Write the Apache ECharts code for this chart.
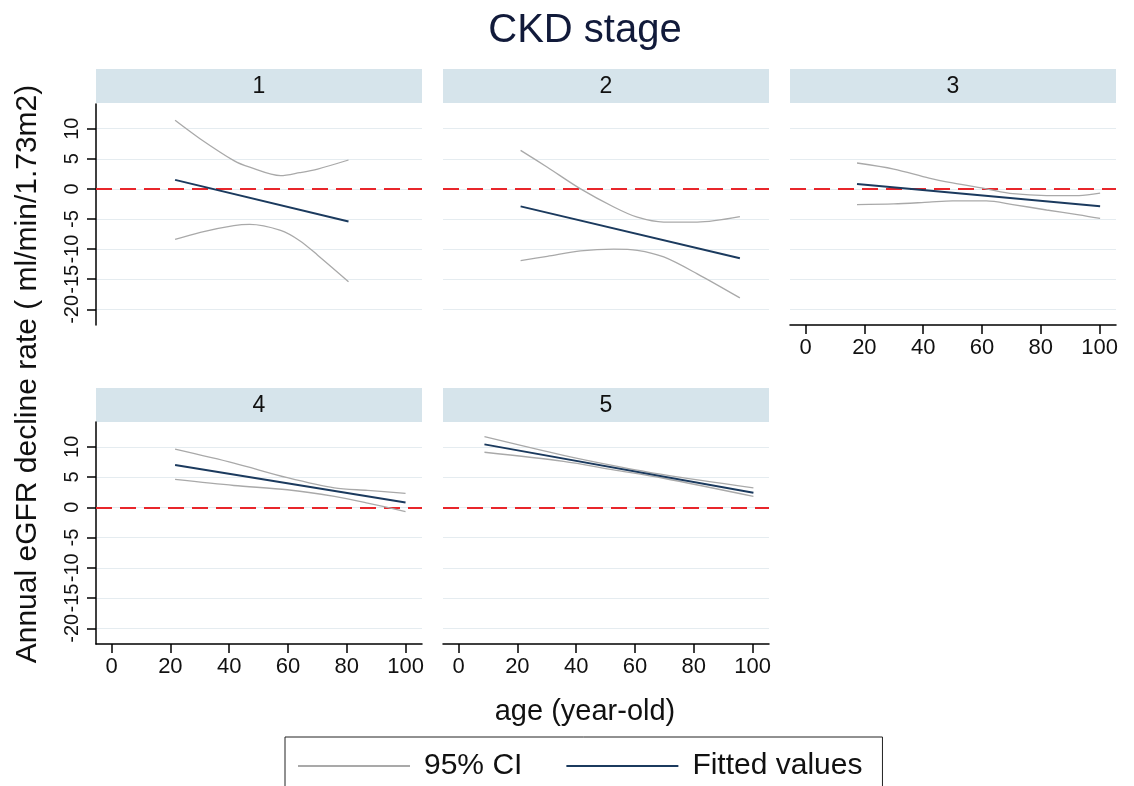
<!DOCTYPE html>
<html>
<head>
<meta charset="utf-8">
<script src="https://cdn.jsdelivr.net/npm/echarts@6/dist/echarts.min.js"></script>
<style>
html,body{margin:0;padding:0;background:#fff;}
#main{width:1134px;height:786px;}
</style>
</head>
<body>
<div id="main"></div>
<script>
// ---- data ----
const panelLabels = ['1', '2', '3', '4', '5'];
const xTicks = [0, 20, 40, 60, 80, 100];
const yTicks = [-20, -15, -10, -5, 0, 5, 10];

// stage 1
const ciAge1 = [21.6, 30.2, 41.6, 47, 57.5, 64, 70.1, 80.6];
const upper1 = [11.4, 8.3, 4.7, 3.6, 2.2, 2.7, 3.3, 4.8];
const lower1 = [-8.4, -7.2, -6.1, -5.9, -6.9, -8.6, -11.0, -15.4];
const fitAge1 = [21.6, 80.6];
const fit1 = [1.5, -5.4];

// stage 2
const ciAge2 = [21.1, 30.2, 41.5, 52.8, 60.8, 69.8, 81.2, 95.7];
const upper2 = [6.4, 3.6, 0.0, -3.0, -4.7, -5.5, -5.5, -4.6];
const lower2 = [-11.9, -11.2, -10.3, -10.0, -10.2, -11.3, -14.1, -18.1];
const fitAge2 = [21.1, 95.7];
const fit2 = [-2.9, -11.5];

// stage 3
const ciAge3 = [17.5, 30, 42, 50, 61.5, 70.5, 82, 93, 100.2];
const upper3 = [4.3, 3.3, 1.8, 1.0, 0.0, -0.8, -1.1, -1.1, -0.7];
const lower3 = [-2.6, -2.5, -2.2, -2.0, -2.0, -2.6, -3.5, -4.3, -4.9];
const fitAge3 = [17.5, 100.2];
const fit3 = [0.8, -2.9];

// stage 4
const ciAge4 = [21.6, 41.6, 59.8, 75.8, 87.1, 100];
const upper4 = [9.6, 7.3, 4.9, 3.2, 2.8, 2.3];
const lower4 = [4.6, 3.6, 2.9, 1.8, 0.7, -0.7];
const fitAge4 = [21.6, 100];
const fit4 = [7.0, 0.8];

// stage 5
const ciAge5 = [8.8, 35.7, 52.7, 69.7, 100.3];
const upper5 = [11.7, 8.6, 6.9, 5.4, 3.2];
const lower5 = [9.1, 7.6, 6.2, 4.8, 1.8];
const fitAge5 = [8.8, 100.3];
const fit5 = [10.4, 2.4];

const panels = [
  {ciAge: ciAge1, upper: upper1, lower: lower1, fitAge: fitAge1, fit: fit1},
  {ciAge: ciAge2, upper: upper2, lower: lower2, fitAge: fitAge2, fit: fit2},
  {ciAge: ciAge3, upper: upper3, lower: lower3, fitAge: fitAge3, fit: fit3},
  {ciAge: ciAge4, upper: upper4, lower: lower4, fitAge: fitAge4, fit: fit4},
  {ciAge: ciAge5, upper: upper5, lower: lower5, fitAge: fitAge5, fit: fit5}
];

// ---- layout ----
const FONT = "'Liberation Sans', Arial, Helvetica, sans-serif";
const colLeft = [96, 443, 790];
const colW = 326;
const rowTop = [104, 422];
const rowH = [221, 222];
const stripTop = [69, 388];
const stripH = [34, 34];
const pos = [[0,0],[0,1],[0,2],[1,0],[1,1]];
const showX = [false, false, true, true, true];
const showY = [true, false, false, true, false];

const CI_COLOR = '#a9a9a9';
const FIT_COLOR = '#1b3a5e';
const GRID_COLOR = '#e5ecf0';
const STRIP_COLOR = '#d6e4eb';

const grids = [], xAxes = [], yAxes = [], series = [], graphics = [];
panels.forEach((p, i) => {
  const [r, c] = pos[i];
  grids.push({left: colLeft[c], top: rowTop[r], width: colW, height: rowH[r], containLabel: false});
  const axLine = {color: '#000', width: 1.5};
  xAxes.push({
    type: 'value', gridIndex: i, min: -5.3, max: 105.6,
    axisLine: {show: showX[i], onZero: false, lineStyle: axLine},
    axisTick: {show: showX[i], customValues: xTicks, length: 9, lineStyle: axLine},
    axisLabel: {show: showX[i], customValues: xTicks, fontSize: 22, margin: 12, color: '#111', fontFamily: FONT},
    splitLine: {show: false}
  });
  yAxes.push({
    type: 'value', gridIndex: i, min: -22.6, max: 14.1,
    axisLine: {show: showY[i], onZero: false, lineStyle: axLine},
    axisTick: {show: showY[i], customValues: yTicks, length: 9, lineStyle: axLine},
    axisLabel: {show: showY[i], customValues: yTicks, rotate: 90, fontSize: 20, margin: 14, color: '#111', fontFamily: FONT},
    splitLine: {show: true, lineStyle: {color: GRID_COLOR, width: 1}}
  });
  const ciStyle = {color: CI_COLOR, width: 1.3};
  series.push({
    name: '95% CI', type: 'line', xAxisIndex: i, yAxisIndex: i,
    data: p.ciAge.map((a, k) => [a, p.upper[k]]),
    showSymbol: false, symbol: 'none', smooth: 0.3, lineStyle: ciStyle, itemStyle: {color: CI_COLOR}, z: 3
  });
  series.push({
    name: '95% CI', type: 'line', xAxisIndex: i, yAxisIndex: i,
    data: p.ciAge.map((a, k) => [a, p.lower[k]]),
    showSymbol: false, symbol: 'none', smooth: 0.3, lineStyle: ciStyle, itemStyle: {color: CI_COLOR}, z: 3
  });
  series.push({
    name: 'Fitted values', type: 'line', xAxisIndex: i, yAxisIndex: i,
    data: p.fitAge.map((a, k) => [a, p.fit[k]]),
    showSymbol: false, symbol: 'none', lineStyle: {color: FIT_COLOR, width: 2}, itemStyle: {color: FIT_COLOR}, z: 4,
    markLine: {
      silent: true, symbol: ['none', 'none'], label: {show: false},
      lineStyle: {color: '#e8262b', type: [16, 8], width: 2},
      data: [{yAxis: 0}], z: 2
    }
  });
  // panel strip
  graphics.push({
    type: 'rect', left: colLeft[c], top: stripTop[r], silent: true,
    shape: {width: colW, height: stripH[r]}, style: {fill: STRIP_COLOR}
  });
  graphics.push({
    type: 'text', silent: true, x: colLeft[c] + colW / 2, y: stripTop[r] + stripH[r] / 2 + 1,
    style: {text: panelLabels[i], font: '23px ' + FONT, fill: '#111', textAlign: 'center', textVerticalAlign: 'middle'}
  });
});

graphics.push({
  type: 'text', silent: true, x: 585, y: 31,
  style: {text: 'CKD stage', font: '40px ' + FONT, fill: '#111a3a', textAlign: 'center', textVerticalAlign: 'middle'}
});
graphics.push({
  type: 'text', silent: true, x: 585, y: 712,
  style: {text: 'age (year-old)', font: '29px ' + FONT, fill: '#111', textAlign: 'center', textVerticalAlign: 'middle'}
});
graphics.push({
  type: 'text', silent: true, x: 28, y: 374, rotation: Math.PI / 2,
  style: {text: 'Annual eGFR decline rate ( ml/min/1.73m2)', font: '30px ' + FONT, fill: '#111', textAlign: 'center', textVerticalAlign: 'middle'}
});

const chart = echarts.init(document.getElementById('main'), null, {renderer: 'canvas'});
chart.setOption({
  backgroundColor: '#fff',
  animation: false,
  grid: grids,
  xAxis: xAxes,
  yAxis: yAxes,
  series: series,
  legend: {
    data: ['95% CI', 'Fitted values'],
    left: 285, top: 737,
    orient: 'horizontal',
    icon: 'rect', itemWidth: 112, itemHeight: 2, itemGap: 44,
    padding: [14, 20, 30, 13],
    borderColor: '#222', borderWidth: 1,
    textStyle: {fontSize: 30, color: '#111', fontFamily: FONT, padding: [0, 0, 0, 9]},
    selectedMode: false
  },
  graphic: graphics
});
</script>
</body>
</html>
